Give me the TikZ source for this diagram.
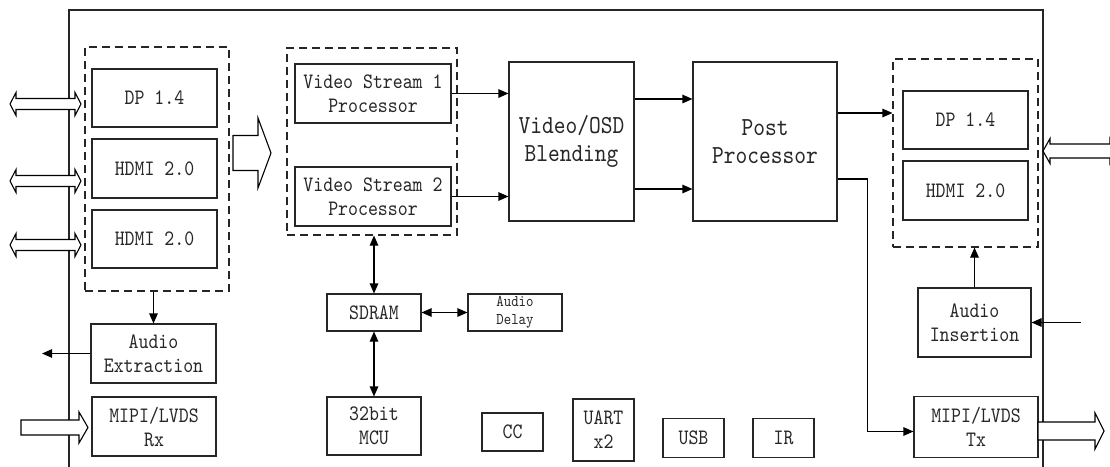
\documentclass[tikz,border=0pt]{standalone}
\usepackage{fontspec}
\usetikzlibrary{arrows.meta,calc}
\definecolor{ink}{HTML}{262626}
% narrow, tall monospaced serif for all labels
\newfontfamily\labelfont[FakeStretch=0.86]{lmmono10-regular.otf}
\newcommand\txtnormal{\labelfont\fontsize{22}{24}\selectfont}
\newcommand\txtlarge{\labelfont\fontsize{26}{28}\selectfont}
\newcommand\txtsmall{\labelfont\fontsize{16.4}{18}\selectfont}
% hollow double-headed arrow: x1, x2, y, shaft half-height, head half-height, head length
\newcommand\HollowDbl[6]{%
  \draw[hollow] (#1,#3) -- ({#1+#6},{#3-#5}) -- ({#1+#6},{#3-#4}) -- ({#2-#6},{#3-#4})
    -- ({#2-#6},{#3-#5}) -- (#2,#3) -- ({#2-#6},{#3+#5}) -- ({#2-#6},{#3+#4})
    -- ({#1+#6},{#3+#4}) -- ({#1+#6},{#3+#5}) -- cycle;}
% hollow single arrow pointing right: x1, x2, y, shaft half-height, head half-height, head length
\newcommand\HollowOne[6]{%
  \draw[hollow] (#1,{#3-#4}) -- ({#2-#6},{#3-#4}) -- ({#2-#6},{#3-#5}) -- (#2,#3)
    -- ({#2-#6},{#3+#5}) -- ({#2-#6},{#3+#4}) -- (#1,{#3+#4}) -- cycle;}
\begin{document}
\begin{tikzpicture}[x=1pt,y=-1pt,line width=1.1pt,
  box/.style={draw=ink, inner sep=0pt, align=center, font=\txtnormal, text=ink},
  grp/.style={draw=ink, dash pattern=on 8pt off 5pt, inner sep=0pt},
  conn/.style={draw=black, -{Triangle[length=10pt,width=8.5pt]}},
  biconn/.style={draw=black, {Triangle[length=10pt,width=8.5pt]}-{Triangle[length=10pt,width=8.5pt]}},
  hollow/.style={draw=black, fill=white, line join=miter}]
\useasboundingbox (0,0) rectangle (1110,466);
\clip (0,0) rectangle (1110,466);
\fill[white] (0,0) rectangle (1110,466);

% chip outline
\draw[ink] (69,470) -- (69,10) -- (1043,10) -- (1043,470);

% input ports
\node[grp, minimum width=144, minimum height=244] (ldash) at (157,169) {};
\node[box, minimum width=125, minimum height=58] (dpin) at (154.5,98) {DP 1.4};
\node[box, minimum width=125, minimum height=59] (hdmia) at (154.5,168.5) {HDMI 2.0};
\node[box, minimum width=125, minimum height=58] (hdmib) at (154.5,239) {HDMI 2.0};
\node[box, minimum width=125, minimum height=59] (aext) at (153.5,353.5) {Audio\\Extraction};
\node[box, minimum width=124, minimum height=59] (rx) at (154,426.5) {MIPI/LVDS\\Rx};

% video path
\node[grp, minimum width=170, minimum height=187] (mdash) at (372,141.5) {};
\node[box, minimum width=156, minimum height=59] (vs1) at (373,93.5) {Video Stream 1\\Processor};
\node[box, minimum width=156, minimum height=59] (vs2) at (373,196.5) {Video Stream 2\\Processor};
\node[box, minimum width=125, minimum height=159, font=\txtlarge] (blend) at (571.5,141.5) {Video/OSD\\Blending};
\node[box, minimum width=144, minimum height=159, font=\txtlarge] (post) at (765,141.5) {Post\\Processor};

% memory and peripherals
\node[box, minimum width=94, minimum height=37] (sdram) at (374,312.5) {SDRAM};
\node[box, minimum width=94, minimum height=37, font=\txtsmall] (adelay) at (515,312.5) {Audio\\Delay};
\node[box, minimum width=94, minimum height=58] (mcu) at (374,426) {32bit\\MCU};
\node[box, minimum width=61, minimum height=38] (cc) at (512.5,432) {CC};
\node[box, minimum width=61, minimum height=62] (uart) at (603.5,430) {UART\\x2};
\node[box, minimum width=61, minimum height=39.5] (usb) at (693.5,438) {USB};
\node[box, minimum width=61, minimum height=39.5] (ir) at (783.5,438) {IR};

% output ports
\node[grp, minimum width=145, minimum height=188] (rdash) at (965.5,153) {};
\node[box, minimum width=125, minimum height=58] (dpout) at (965.5,120) {DP 1.4};
\node[box, minimum width=125, minimum height=59] (hdmiout) at (965.5,190.5) {HDMI 2.0};
\node[box, minimum width=113, minimum height=69] (ains) at (974.5,322.5) {Audio\\Insertion};
\node[box, minimum width=124, minimum height=61.5] (tx) at (976,427) {MIPI/LVDS\\Tx};

% free ends of the audio signals
\coordinate (aout) at (42,353.5);
\coordinate (ain) at (1081,322.5);
% taps on the post processor's right side
\coordinate (pmain) at ($(post.east)+(0,-28.5)$);
\coordinate (pmipi) at ($(post.east)+(0,37.5)$);
\coordinate (txin) at ($(tx.west)+(0,4.5)$);

% connectors
\draw[conn] (vs1.east) -- (vs1.east -| blend.west);
\draw[conn] (vs2.east) -- (vs2.east -| blend.west);
\draw[conn] ($(blend.east)+(0,-42.5)$) -- ($(post.west)+(0,-42.5)$);
\draw[conn] ($(blend.east)+(0,47.5)$) -- ($(post.west)+(0,47.5)$);
\draw[conn] (pmain) -- (pmain -| rdash.west);
\draw[conn] (pmipi) -- ++(30,0) |- (txin);
\draw[conn] (ains.north) -- (ains.north |- rdash.south);
\draw[conn] (ain) -- (ains.east);
\draw[conn] (aext.north |- ldash.south) -- (aext.north);
\draw[conn] (aext.west) -- (aout);
\draw[biconn] (sdram.north |- mdash.south) -- (sdram.north);
\draw[biconn] (sdram.south) -- (mcu.north);
\draw[biconn] (sdram.east) -- (adelay.west);

% hollow bus arrows
\HollowDbl{10}{81}{104}{5.5}{11.5}{6}
\HollowDbl{10}{81}{181}{5.5}{11.5}{6}
\HollowDbl{10}{81}{245}{5.5}{11.5}{6}
\HollowDbl{1043}{1117}{151}{7}{12.5}{7}
\HollowOne{233}{271}{153}{17.5}{35}{13}
\HollowOne{21}{88}{427.5}{7.5}{15.5}{9}
\HollowOne{1038}{1104}{431}{9}{18}{9}
\end{tikzpicture}
\end{document}
